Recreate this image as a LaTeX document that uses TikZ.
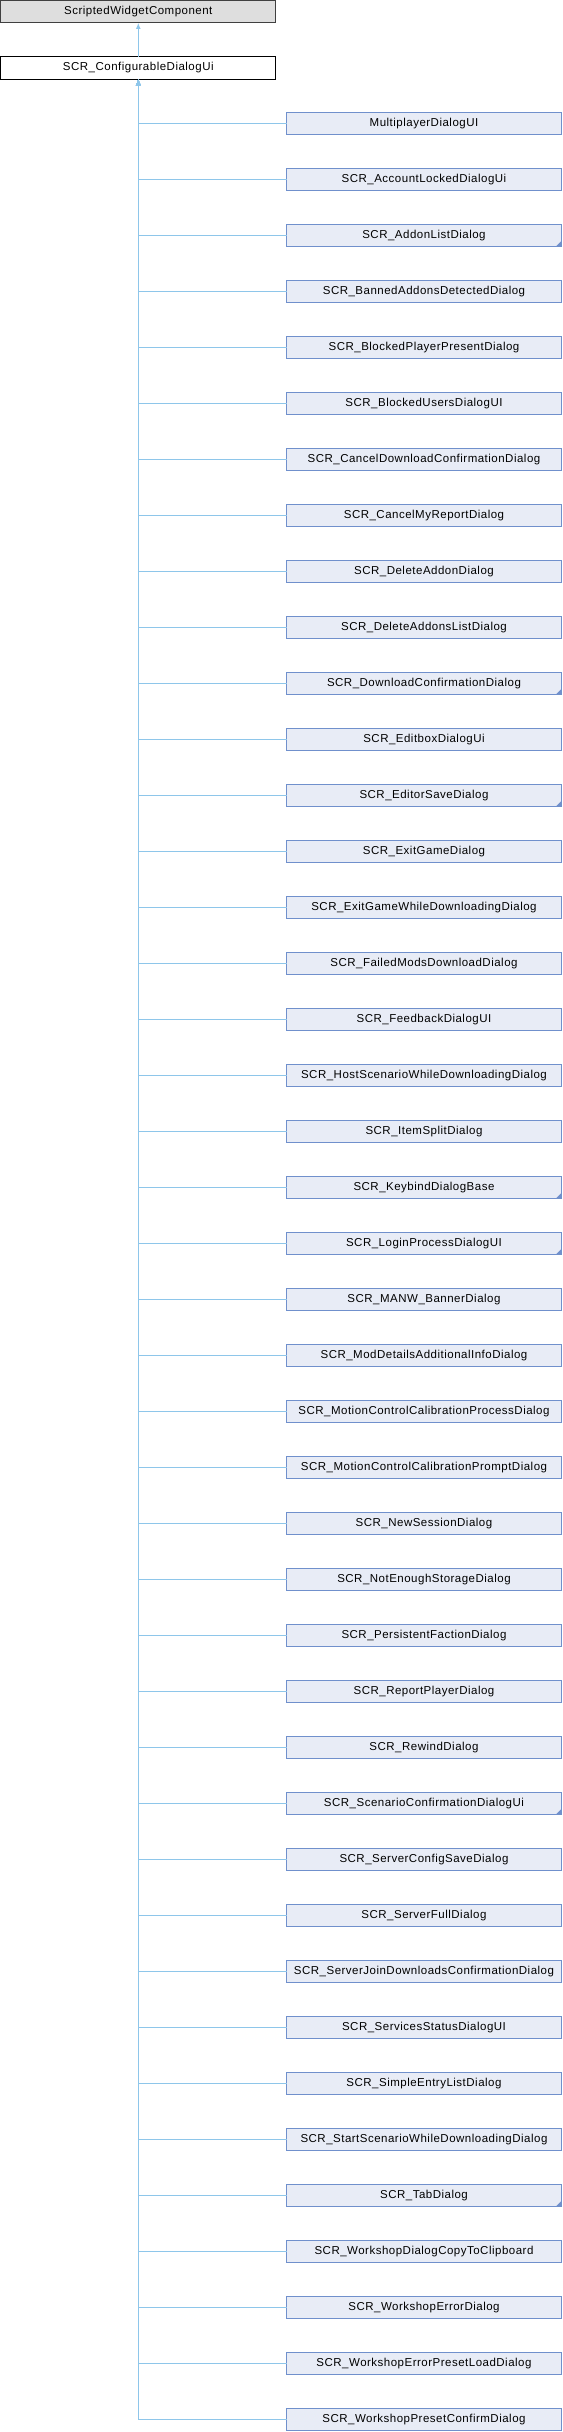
\documentclass[tikz,border=0pt]{standalone}
\usepackage{fontspec}
\setmainfont{Liberation Sans}[LetterSpace=4.3]
\usetikzlibrary{arrows.meta}
\definecolor{edgec}{HTML}{8EC6EA}
\definecolor{childfill}{HTML}{E8ECF6}
\definecolor{childdraw}{HTML}{7090CC}
\definecolor{basefill}{HTML}{DEDEDE}
\definecolor{basedraw}{HTML}{404040}
\tikzset{
  box/.style={rectangle, minimum width=275pt, minimum height=22.5pt, inner sep=0pt, outer sep=0pt, line width=1pt, font=\fontsize{11.5}{13}\selectfont},
  basebox/.style={box, draw=basedraw, fill=basefill},
  curbox/.style={box, draw=black, fill=white},
  childbox/.style={box, draw=childdraw, fill=childfill},
  edge/.style={draw=edgec, line width=1pt, -{Latex[length=6pt,width=5pt]}},
}
\begin{document}
\begin{tikzpicture}[x=1pt,y=-1pt]
\useasboundingbox (0,0) rectangle (562,2432);
\node[basebox] (base) at (138.3,11.7) {ScriptedWidgetComponent};
\node[curbox] (cur) at (138.3,68) {SCR\_ConfigurableDialogUi};
\draw[edge] (cur.north) -- (base.south);
\foreach \nm/\tri [count=\i from 0] in {
MultiplayerDialogUI/0,
SCR\_AccountLockedDialogUi/0,
SCR\_AddonListDialog/1,
SCR\_BannedAddonsDetectedDialog/0,
SCR\_BlockedPlayerPresentDialog/0,
SCR\_BlockedUsersDialogUI/0,
SCR\_CancelDownloadConfirmationDialog/0,
SCR\_CancelMyReportDialog/0,
SCR\_DeleteAddonDialog/0,
SCR\_DeleteAddonsListDialog/0,
SCR\_DownloadConfirmationDialog/1,
SCR\_EditboxDialogUi/0,
SCR\_EditorSaveDialog/1,
SCR\_ExitGameDialog/0,
SCR\_ExitGameWhileDownloadingDialog/0,
SCR\_FailedModsDownloadDialog/0,
SCR\_FeedbackDialogUI/0,
SCR\_HostScenarioWhileDownloadingDialog/0,
SCR\_ItemSplitDialog/0,
SCR\_KeybindDialogBase/1,
SCR\_LoginProcessDialogUI/1,
SCR\_MANW\_BannerDialog/0,
SCR\_ModDetailsAdditionalInfoDialog/0,
SCR\_MotionControlCalibrationProcessDialog/0,
SCR\_MotionControlCalibrationPromptDialog/0,
SCR\_NewSessionDialog/0,
SCR\_NotEnoughStorageDialog/0,
SCR\_PersistentFactionDialog/0,
SCR\_ReportPlayerDialog/0,
SCR\_RewindDialog/0,
SCR\_ScenarioConfirmationDialogUi/1,
SCR\_ServerConfigSaveDialog/0,
SCR\_ServerFullDialog/0,
SCR\_ServerJoinDownloadsConfirmationDialog/0,
SCR\_ServicesStatusDialogUI/0,
SCR\_SimpleEntryListDialog/0,
SCR\_StartScenarioWhileDownloadingDialog/0,
SCR\_TabDialog/1,
SCR\_WorkshopDialogCopyToClipboard/0,
SCR\_WorkshopErrorDialog/0,
SCR\_WorkshopErrorPresetLoadDialog/0,
SCR\_WorkshopPresetConfirmDialog/0}{
  \node[childbox] (c\i) at (424,123.7+56*\i) {\nm};
  \ifnum\tri=1
    \fill[childdraw] (c\i.south east) -- ++(-6,0) -- ++(6,-6) -- cycle;
  \fi
  \draw[edge] (c\i.west) -| (cur.south);
}
\end{tikzpicture}
\end{document}
